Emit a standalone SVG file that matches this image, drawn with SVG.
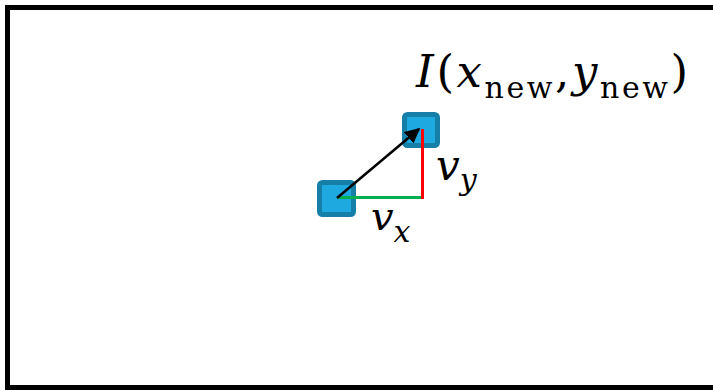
<svg xmlns="http://www.w3.org/2000/svg" width="713" height="390" viewBox="0 0 713 390">
<style>
.m{font-family:"DejaVu Serif","Liberation Serif",serif;font-style:italic;fill:#000}
.r{font-family:"DejaVu Serif","Liberation Serif",serif;font-style:normal;fill:#000}
.it{font-style:italic}
.sub{font-style:normal;font-size:30px}
.sq{fill:#1ea9e1;stroke:#157fa8;stroke-width:5}
</style>
<defs>
<marker id="ah" viewBox="0 0 10 10" refX="9" refY="5" markerWidth="6" markerHeight="6" orient="auto" markerUnits="strokeWidth">
<path d="M0,0 L10,5 L0,10 z" fill="#000"/>
</marker>
</defs>
<rect x="7.5" y="7.5" width="710" height="380" fill="#fff" stroke="#000" stroke-width="5"/>
<g id="start"><rect class="sq" x="319.5" y="182.5" width="34" height="32" rx="3"/></g>
<g id="end"><rect class="sq" x="404.5" y="114.5" width="33" height="31" rx="3"/></g>
<g id="connectors">
<line x1="337" y1="197.5" x2="422" y2="197.5" stroke="#00b050" stroke-width="3"/>
<line x1="422.5" y1="129" x2="422.5" y2="199" stroke="#ff0000" stroke-width="3"/>
<line x1="337" y1="198" x2="419" y2="129" stroke="#000" stroke-width="2.5" marker-end="url(#ah)"/>
</g>
<g id="labels">
<text class="r" x="416" y="87" font-size="45" letter-spacing="2.6"><tspan class="it">I</tspan>(<tspan class="it">x</tspan><tspan class="sub" dy="11">new</tspan><tspan dy="-11">,</tspan><tspan class="it">y</tspan><tspan class="sub" dy="11">new</tspan><tspan dy="-11">)</tspan></text>
<text class="m" x="436" y="180" font-size="42">v<tspan font-size="30" dy="10">y</tspan></text>
<text class="m" x="371" y="230" font-size="40">v<tspan font-size="30" dy="12">x</tspan></text>
</g>
</svg>
